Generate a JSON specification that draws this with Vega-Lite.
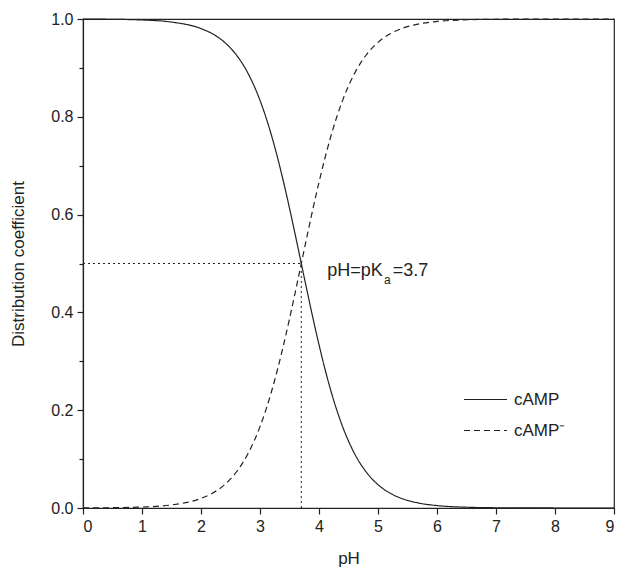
{
  "$schema": "https://vega.github.io/schema/vega-lite/v6.json",
  "width": 531,
  "height": 489,
  "autosize": {"type": "none"},
  "padding": {"left": 83, "top": 19, "right": 6, "bottom": 61},
  "background": "white",
  "config": {
    "view": {"stroke": "#222", "strokeWidth": 1.2},
    "font": "Liberation Sans",
    "axis": {
      "domainColor": "#222", "domainWidth": 1.2, "tickColor": "#222", "tickWidth": 1.2,
      "labelColor": "#222", "titleColor": "#222", "labelFont": "Liberation Sans", "titleFont": "Liberation Sans",
      "labelFontSize": 16, "titleFontSize": 17, "titleFontWeight": "normal", "grid": false
    }
  },
  "datasets": {
    "curves": [
      {"pH": 0, "frac": 0.9998, "species": "cAMP"},
      {"pH": 0.5, "frac": 0.99937, "species": "cAMP"},
      {"pH": 1, "frac": 0.99801, "species": "cAMP"},
      {"pH": 1.5, "frac": 0.99373, "species": "cAMP"},
      {"pH": 2, "frac": 0.98044, "species": "cAMP"},
      {"pH": 2.2, "frac": 0.96935, "species": "cAMP"},
      {"pH": 2.4, "frac": 0.95227, "species": "cAMP"},
      {"pH": 2.6, "frac": 0.92641, "species": "cAMP"},
      {"pH": 2.8, "frac": 0.88818, "species": "cAMP"},
      {"pH": 3.0, "frac": 0.83366, "species": "cAMP"},
      {"pH": 3.1, "frac": 0.79924, "species": "cAMP"},
      {"pH": 3.2, "frac": 0.75975, "species": "cAMP"},
      {"pH": 3.3, "frac": 0.71526, "species": "cAMP"},
      {"pH": 3.4, "frac": 0.66613, "species": "cAMP"},
      {"pH": 3.5, "frac": 0.61314, "species": "cAMP"},
      {"pH": 3.6, "frac": 0.55732, "species": "cAMP"},
      {"pH": 3.7, "frac": 0.5, "species": "cAMP"},
      {"pH": 3.8, "frac": 0.44268, "species": "cAMP"},
      {"pH": 3.9, "frac": 0.38686, "species": "cAMP"},
      {"pH": 4.0, "frac": 0.33387, "species": "cAMP"},
      {"pH": 4.1, "frac": 0.28474, "species": "cAMP"},
      {"pH": 4.2, "frac": 0.24025, "species": "cAMP"},
      {"pH": 4.3, "frac": 0.20076, "species": "cAMP"},
      {"pH": 4.4, "frac": 0.16634, "species": "cAMP"},
      {"pH": 4.6, "frac": 0.11182, "species": "cAMP"},
      {"pH": 4.8, "frac": 0.07359, "species": "cAMP"},
      {"pH": 5.0, "frac": 0.04773, "species": "cAMP"},
      {"pH": 5.2, "frac": 0.03065, "species": "cAMP"},
      {"pH": 5.4, "frac": 0.01956, "species": "cAMP"},
      {"pH": 5.7, "frac": 0.0099, "species": "cAMP"},
      {"pH": 6.0, "frac": 0.00499, "species": "cAMP"},
      {"pH": 6.5, "frac": 0.00158, "species": "cAMP"},
      {"pH": 7, "frac": 0.0005, "species": "cAMP"},
      {"pH": 7.5, "frac": 0.00016, "species": "cAMP"},
      {"pH": 8, "frac": 0.00005, "species": "cAMP"},
      {"pH": 9, "frac": 0.000005, "species": "cAMP"},
      {"pH": 0, "frac": 0.0002, "species": "cAMP⁻"},
      {"pH": 0.5, "frac": 0.00063, "species": "cAMP⁻"},
      {"pH": 1, "frac": 0.00199, "species": "cAMP⁻"},
      {"pH": 1.5, "frac": 0.00627, "species": "cAMP⁻"},
      {"pH": 2, "frac": 0.01956, "species": "cAMP⁻"},
      {"pH": 2.2, "frac": 0.03065, "species": "cAMP⁻"},
      {"pH": 2.4, "frac": 0.04773, "species": "cAMP⁻"},
      {"pH": 2.6, "frac": 0.07359, "species": "cAMP⁻"},
      {"pH": 2.8, "frac": 0.11182, "species": "cAMP⁻"},
      {"pH": 3.0, "frac": 0.16634, "species": "cAMP⁻"},
      {"pH": 3.1, "frac": 0.20076, "species": "cAMP⁻"},
      {"pH": 3.2, "frac": 0.24025, "species": "cAMP⁻"},
      {"pH": 3.3, "frac": 0.28474, "species": "cAMP⁻"},
      {"pH": 3.4, "frac": 0.33387, "species": "cAMP⁻"},
      {"pH": 3.5, "frac": 0.38686, "species": "cAMP⁻"},
      {"pH": 3.6, "frac": 0.44268, "species": "cAMP⁻"},
      {"pH": 3.7, "frac": 0.5, "species": "cAMP⁻"},
      {"pH": 3.8, "frac": 0.55732, "species": "cAMP⁻"},
      {"pH": 3.9, "frac": 0.61314, "species": "cAMP⁻"},
      {"pH": 4.0, "frac": 0.66613, "species": "cAMP⁻"},
      {"pH": 4.1, "frac": 0.71526, "species": "cAMP⁻"},
      {"pH": 4.2, "frac": 0.75975, "species": "cAMP⁻"},
      {"pH": 4.3, "frac": 0.79924, "species": "cAMP⁻"},
      {"pH": 4.4, "frac": 0.83366, "species": "cAMP⁻"},
      {"pH": 4.6, "frac": 0.88818, "species": "cAMP⁻"},
      {"pH": 4.8, "frac": 0.92641, "species": "cAMP⁻"},
      {"pH": 5.0, "frac": 0.95227, "species": "cAMP⁻"},
      {"pH": 5.2, "frac": 0.96935, "species": "cAMP⁻"},
      {"pH": 5.4, "frac": 0.98044, "species": "cAMP⁻"},
      {"pH": 5.7, "frac": 0.9901, "species": "cAMP⁻"},
      {"pH": 6.0, "frac": 0.99501, "species": "cAMP⁻"},
      {"pH": 6.5, "frac": 0.99842, "species": "cAMP⁻"},
      {"pH": 7, "frac": 0.9995, "species": "cAMP⁻"},
      {"pH": 7.5, "frac": 0.99984, "species": "cAMP⁻"},
      {"pH": 8, "frac": 0.99995, "species": "cAMP⁻"},
      {"pH": 9, "frac": 0.999995, "species": "cAMP⁻"}
    ],
    "guides": [
      {"x1": 0, "x2": 3.7, "y1": 0.5, "y2": 0.5},
      {"x1": 3.7, "x2": 3.7, "y1": 0, "y2": 0.5}
    ],
    "annot": [
      {"x": 4.14, "y": 0.474, "t": "pH=pK"},
      {"x": 5.25, "y": 0.474, "t": "=3.7"}
    ],
    "annotSub": [
      {"x": 5.10, "y": 0.458, "t": "a"}
    ]
  },
  "layer": [
    {
      "data": {"name": "guides"},
      "mark": {"type": "rule", "color": "#222", "strokeWidth": 1, "strokeDash": [2, 3]},
      "encoding": {
        "x": {"field": "x1", "type": "quantitative", "scale": {"domain": [0, 9], "nice": false, "zero": false}},
        "x2": {"field": "x2"},
        "y": {"field": "y1", "type": "quantitative", "scale": {"domain": [0, 1], "nice": false}},
        "y2": {"field": "y2"}
      }
    },
    {
      "data": {"name": "curves"},
      "mark": {"type": "line", "color": "#222", "strokeWidth": 1.2, "interpolate": "monotone"},
      "encoding": {
        "x": {
          "field": "pH", "type": "quantitative",
          "scale": {"domain": [0, 9], "nice": false, "zero": false},
          "axis": {
            "title": "pH",
            "values": [0, 0.5, 1, 1.5, 2, 2.5, 3, 3.5, 4, 4.5, 5, 5.5, 6, 6.5, 7, 7.5, 8, 8.5, 9],
            "labelExpr": "datum.value % 1 ? '' : format(datum.value, 'd')",
            "tickSize": {"condition": {"test": "datum.value % 1", "value": 4}, "value": 6},
            "labelPadding": 4,
            "titlePadding": 16
          }
        },
        "y": {
          "field": "frac", "type": "quantitative",
          "scale": {"domain": [0, 1], "nice": false},
          "axis": {
            "title": "Distribution coefficient",
            "values": [0, 0.1, 0.2, 0.3, 0.4, 0.5, 0.6, 0.7, 0.8, 0.9, 1.0],
            "labelExpr": "round(datum.value*10) % 2 ? '' : format(datum.value, '.1f')",
            "tickSize": {"condition": {"test": "round(datum.value*10) % 2", "value": 4}, "value": 6},
            "labelPadding": 4,
            "titlePadding": 23
          }
        },
        "strokeDash": {
          "field": "species", "type": "nominal",
          "scale": {"domain": ["cAMP", "cAMP⁻"], "range": [[1, 0], [6, 4]]},
          "legend": {
            "title": null,
            "orient": "none",
            "legendX": 380,
            "legendY": 358,
            "padding": 0,
            "symbolType": "stroke",
            "symbolSize": 1849,
            "symbolStrokeColor": "#222",
            "symbolStrokeWidth": 1.2,
            "labelFontSize": 17,
            "labelFont": "Liberation Sans",
            "labelColor": "#222",
            "labelOffset": 6,
            "rowPadding": -6
          }
        }
      }
    },
    {
      "data": {"name": "annot"},
      "mark": {"type": "text", "align": "left", "baseline": "alphabetic", "fontSize": 18, "color": "#222", "font": "Liberation Sans"},
      "encoding": {
        "x": {"field": "x", "type": "quantitative"},
        "y": {"field": "y", "type": "quantitative"},
        "text": {"field": "t"}
      }
    },
    {
      "data": {"name": "annotSub"},
      "mark": {"type": "text", "align": "left", "baseline": "alphabetic", "fontSize": 12, "color": "#222", "font": "Liberation Sans"},
      "encoding": {
        "x": {"field": "x", "type": "quantitative"},
        "y": {"field": "y", "type": "quantitative"},
        "text": {"field": "t"}
      }
    }
  ]
}
